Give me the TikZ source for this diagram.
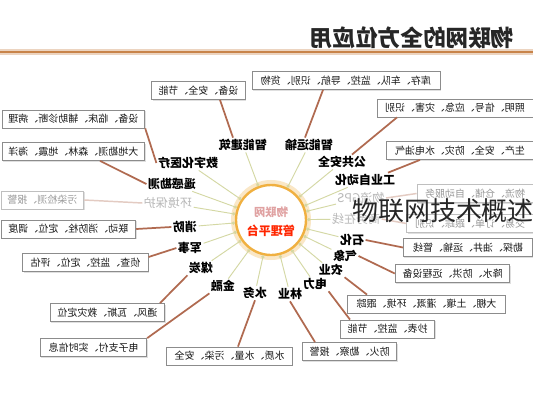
\documentclass[tikz,border=0pt]{standalone}
\usepackage{fontspec}
\usepackage{graphicx}
\newfontfamily\cjk{Noto Sans CJK SC}
\usetikzlibrary{arrows.meta,shadows,calc}
\definecolor{linkc}{HTML}{B06A50}
\definecolor{spokec}{HTML}{D4D8A4}
\definecolor{ringc}{HTML}{F0B040}
\definecolor{titleline}{HTML}{C8844A}
\tikzset{
  bx/.style={draw=black!45, line width=0.6pt, fill=white, font=\cjk\fontsize{7.5}{9}\selectfont, text=black!90,
    minimum height=13.5pt, inner sep=1pt,
    drop shadow={shadow xshift=0.8pt, shadow yshift=-0.8pt, opacity=0.25}},
  gbx/.style={bx, draw=black!25, text=black!40},
  lab/.style={font=\cjk\bfseries\fontsize{9}{10}\selectfont, text=black, inner sep=1pt},
  glab/.style={lab, font=\cjk\fontsize{9}{10}\selectfont, text=black!28},
  link/.style={draw=linkc, line width=1.3pt},
  glink/.style={draw=linkc!35, line width=1.1pt},
  spoke/.style={draw=spokec, line width=0.7pt, {Circle[length=2.4pt, fill=ringc!70]}-},
}
\begin{document}
\begin{tikzpicture}[x=0.75pt, y=-0.75pt]
\fill[white] (0,0) rectangle (533,400);
\useasboundingbox (0,0) rectangle (533,400);

% title
\node[font=\cjk\bfseries\fontsize{17}{19}\selectfont, text=black!85] (title) at (412,38) {\reflectbox{物联网的全方位应用}};
\draw[titleline!35, line width=4.5pt] (0,52) -- (533,52);
\draw[titleline, line width=2.2pt] (0,52) -- (533,52);

% hub
\node[circle, minimum size=56pt, draw=ringc!30, line width=4pt] at (271,220) {};
\node[circle, minimum size=52.5pt, inner sep=0pt, draw=ringc, line width=1.8pt, fill=white] (hub) at (271,220) {};
\node[font=\cjk\bfseries\fontsize{8.5}{10}\selectfont, text=red!35!pink!80!black!60] (hubt1) at (271,212) {\reflectbox{物联网}};
\node[font=\cjk\bfseries\fontsize{9}{10}\selectfont, text=red!70!orange] (hubt2) at (271,231) {\reflectbox{管理平台}};

% labels
\node[lab] (l1) at (243,145) {\reflectbox{智能建筑}};
\node[lab] (l2) at (309,145) {\reflectbox{智能运输}};
\node[lab] (l3) at (342,162) {\reflectbox{公共安全}};
\node[lab] (l4) at (365,180) {\reflectbox{工业自动化}};
\node[glab] (l5) at (361,198) {\reflectbox{物流GPS}};
\node[glab] (l6) at (356,219) {\reflectbox{商务在线}};
\node[lab] (l7) at (352,240) {\reflectbox{石化}};
\node[lab] (l8) at (345,256) {\reflectbox{气象}};
\node[lab] (l9) at (331,270) {\reflectbox{农业}};
\node[lab] (l10) at (315,284) {\reflectbox{电力}};
\node[lab] (l11) at (290,294) {\reflectbox{林业}};
\node[lab] (l12) at (255,293) {\reflectbox{水务}};
\node[lab] (l13) at (223,286) {\reflectbox{金融}};
\node[lab] (l14) at (201,268) {\reflectbox{煤炭}};
\node[lab] (l15) at (190,248) {\reflectbox{军事}};
\node[lab] (l16) at (185,227) {\reflectbox{消防}};
\node[glab] (l17) at (168,203) {\reflectbox{环境保护}};
\node[lab] (l18) at (172,184) {\reflectbox{遥感勘测}};
\node[lab] (l19) at (188,163) {\reflectbox{数字化医疗}};

% spokes
\foreach \n in {l1,l2,l3,l4,l5,l6,l7,l8,l9,l10,l11,l12,l13,l14,l15,l16,l17,l18,l19}
  \draw[spoke] (hub) -- (\n);

% boxes
\node[bx, minimum width=141pt] (b1) at (346,80.5) {\reflectbox{库存、车队、监控、导航、识别、货物}};
\node[bx, minimum width=70pt] (b2) at (198.5,90.5) {\reflectbox{设备、安全、节能}};
\node[bx, minimum width=107pt] (b3) at (73.5,119) {\reflectbox{设备、临床、辅助诊断、病理}};
\node[bx, minimum width=107pt] (b4) at (73.5,151.5) {\reflectbox{大地勘测、森林、地震、海洋}};
\node[bx, minimum width=117pt] (b5) at (455,108) {\reflectbox{照明、信号、应急、灾害、识别}};
\node[bx, minimum width=110pt] (b6) at (460,150.5) {\reflectbox{生产、安全、防灾、水电油气}};
\node[gbx, minimum width=87pt] (b7) at (475,193.5) {\reflectbox{物流、仓储、自动服务}};
\node[gbx, minimum width=95pt] (b8) at (470,223.5) {\reflectbox{交易、订单、跟踪、识别}};
\node[bx, minimum width=97pt] (b9) at (468,247.5) {\reflectbox{勘探、油井、运输、管线}};
\node[bx, minimum width=86pt] (b10) at (452.5,273.5) {\reflectbox{降水、防洪、远程设备}};
\node[bx, minimum width=118pt] (b11) at (426.5,304) {\reflectbox{大棚、土壤、灌溉、环境、跟踪}};
\node[bx, minimum width=71pt] (b12) at (387.5,329) {\reflectbox{抄表、监控、节能}};
\node[bx, minimum width=71pt] (b13) at (349.5,351.5) {\reflectbox{防火、勘察、报警}};
\node[bx, minimum width=94pt] (b14) at (229.5,356) {\reflectbox{水质、水量、污染、安全}};
\node[bx, minimum width=80pt] (b15) at (93.5,347.5) {\reflectbox{电子支付、实时信息}};
\node[bx, minimum width=86pt] (b16) at (107.5,312.5) {\reflectbox{通风、瓦斯、救灾定位}};
\node[bx, minimum width=94pt] (b17) at (85.5,262.5) {\reflectbox{侦查、监控、定位、评估}};
\node[bx, minimum width=101pt] (b18) at (68.5,229) {\reflectbox{联动、消防栓、定位、调度}};
\node[gbx, minimum width=62pt] (b19) at (42.5,200) {\reflectbox{污染检测、报警}};

% links
\draw[link] (l1.north -| 233,0) -- (b2.south -| 220,0);
\draw[link] (l2.north -| 305,0) -- (b1.south -| 323,0);
\draw[link] (l3.north -| 352,0) -- (b5.south -| 397,0);
\draw[link] (l4.north -| 388,0) -- (b6.south -| 420,0);
\draw[glink] (l5.east) -- (b7.west);
\draw[glink] (l6.east) -- (b8.west);
\draw[link] (l7.east) -- (b9.west);
\draw[link] (l8.east) -- (b10.west);
\draw[link] (l9.south east) -- (b11.north -| 367,0);
\draw[link] (l10.south east) -- (b12.north -| 350,0);
\draw[link] (l11.south) -- (b13.north -| 315,0);
\draw[link] (l12.south) -- (b14.north -| 238,0);
\draw[link] (l13.south west) -- (b15.north east);
\draw[link] (l14.south west) -- (b16.north -| 160,0);
\draw[link] (l15.west) -- (b17.east |- 0,257);
\draw[link] (l16.west) -- (b18.east);
\draw[glink] (l17.west) -- (b19.east);
\draw[link] (l18.west) -- (b4.south -| 100,0);
\draw[link] (l19.west) -- (b3.south east);

% overlay caption
\node[font=\cjk\fontsize{19.5}{22}\selectfont, text=black!85, inner sep=0pt] (cap) at (443,211) {物联网技术概述};
\end{tikzpicture}
\end{document}
